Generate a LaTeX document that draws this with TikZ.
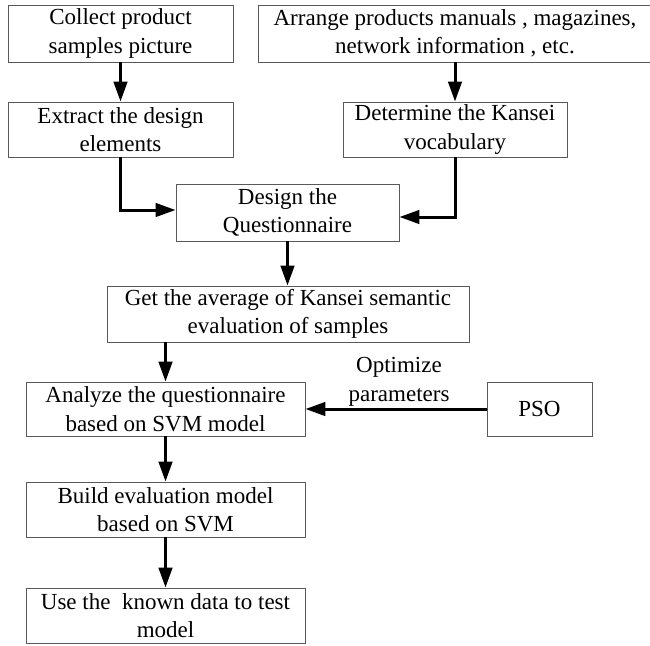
\documentclass[tikz,border=0pt]{standalone}
\usepackage{fontspec}
\setmainfont{Liberation Serif}
\usetikzlibrary{arrows.meta}
\begin{document}
\begin{tikzpicture}[x=1pt,y=-1pt,
  every node/.style={font=\fontsize{23}{28.5}\selectfont, align=center, inner sep=0pt},
  box/.style={draw=black!65, line width=0.9pt},
  arr/.style={line width=3pt, -{Triangle[length=20pt,width=13.5pt]}}]
\useasboundingbox (0,0) rectangle (650,645);
\node[box, minimum width=225pt, minimum height=57pt] (b1) at (120.5,33.5) {Collect product\\samples picture};
\node[box, minimum width=393pt, minimum height=57pt] (b2) at (455,33.5) {Arrange products manuals , magazines,\\network information , etc.};
\node[box, minimum width=225pt, minimum height=55pt] (b3) at (120.5,129.5) {Extract the design\\elements};
\node[box, minimum width=224pt, minimum height=55pt] (b4) at (455,129.5) {Determine the Kansei\\vocabulary};
\node[box, minimum width=223pt, minimum height=57pt] (b5) at (287.5,212.5) {Design the\\Questionnaire};
\node[box, minimum width=362pt, minimum height=56pt] (b6) at (288,314) {Get the average of Kansei semantic\\evaluation of samples};
\node[box, minimum width=279pt, minimum height=54pt] (b7) at (165.5,409) {Analyze the questionnaire\\based on SVM model};
\node[box, minimum width=105pt, minimum height=54pt] (pso) at (539.5,409) {PSO};
\node[box, minimum width=279pt, minimum height=55pt] (b8) at (165.5,509.5) {Build evaluation model\\based on SVM};
\node[box, minimum width=279pt, minimum height=55pt] (b9) at (165.5,615.5) {Use the\ \ known data to test\\model};
\node (lbl) at (399,382) {Optimize\\parameters};
\coordinate (j1) at ([yshift=2.5pt]b5.west);
\coordinate (j2) at ([yshift=-4.5pt]b5.east);
\draw[arr] (b1.south) -- (b3.north);
\draw[arr] (b2.south) -- (b4.north);
\draw[arr] (b3.south) |- (j1);
\draw[arr] (b4.south) |- (j2);
\draw[arr] (b5.south) -- (b6.north -| b5.south);
\draw[arr] (b6.south -| b7.north) -- (b7.north);
\draw[arr] (pso.west) -- (b7.east);
\draw[arr] (b7.south) -- (b8.north);
\draw[arr] (b8.south) -- (b9.north);
\end{tikzpicture}
\end{document}
